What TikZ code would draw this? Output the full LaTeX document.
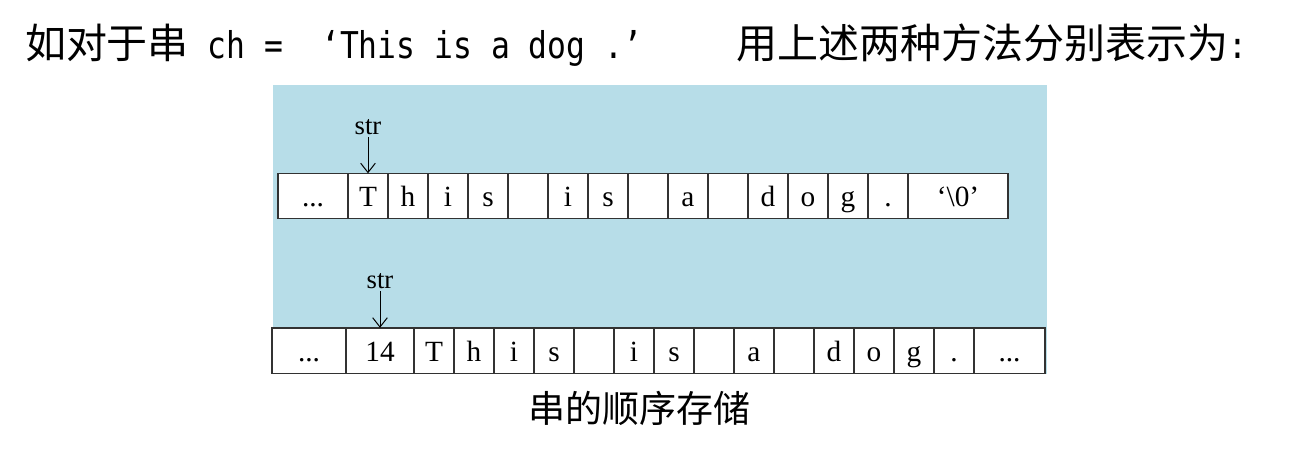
\documentclass[tikz,border=0pt]{standalone}
\usepackage{fontspec}
\setmainfont{Liberation Serif}
\newfontfamily\cjkfont{Noto Sans CJK SC}
\newfontfamily\codefont[FakeStretch=0.85,Scale=0.9]{DejaVu Sans Mono}
\usetikzlibrary{arrows.meta}
\definecolor{panelblue}{RGB}{183,221,232}
\definecolor{cellline}{RGB}{50,50,50}

\begin{document}
\begin{tikzpicture}[x=0.75pt,y=-0.75pt,inner sep=0pt,outer sep=0pt,
>={Straight Barb[length=7pt,width=11pt]},
cell/.style={draw=cellline,rectangle,fill=white,line width=1pt,minimum width=30pt,minimum height=34pt,
  text height=16pt,text depth=0pt,font=\fontsize{22}{22}\selectfont},
ptr/.style={font=\fontsize{20}{20}\selectfont},
title/.style={font=\fontsize{30.75}{31}\selectfont}]

\useasboundingbox (0,0) rectangle (1310,449);
\fill[panelblue] (273,85) rectangle (1047,374);

\draw (25,45) node[title,anchor=west] (head) {\cjkfont 如对于串\codefont{} ch =\ \ ‘This is a dog .’\ \ \ \ \ \cjkfont 用上述两种方法分别表示为\codefont :};

% terminated by '\0'
\draw (313,196) node[cell,minimum width=52.5pt] (a0) {...};
\foreach \c [count=\i] in {T,h,i,s,{},i,s,{},a,{},d,o,g,.}
  \draw ({328+40*\i},196) node[cell] (a\i) {\c};
\draw (958,196) node[cell,minimum width=75pt] (a15) {‘\textbackslash 0’};
\draw (368,127) node[ptr] (p1) {str};
\draw[->,line width=0.75pt] ([yshift=-2pt]p1.south) -- (a1.north);

% length stored in front
\draw (309,350.5) node[cell,minimum width=55.5pt] (b0) {...};
\draw (380,350.5) node[cell,minimum width=51pt] (len) {14};
\foreach \c [count=\i] in {T,h,i,s,{},i,s,{},a,{},d,o,g,.}
  \draw ({394+40*\i},350.5) node[cell] (b\i) {\c};
\draw (1009.5,350.5) node[cell,minimum width=53.25pt] (b15) {...};
\draw (380,281) node[ptr] (p2) {str};
\draw[->,line width=0.75pt] ([yshift=-2pt]p2.south) -- (len.north);

\draw (639,408) node[font=\fontsize{27.75}{28}\selectfont] (caption) {\cjkfont 串的顺序存储};

\end{tikzpicture}
\end{document}
